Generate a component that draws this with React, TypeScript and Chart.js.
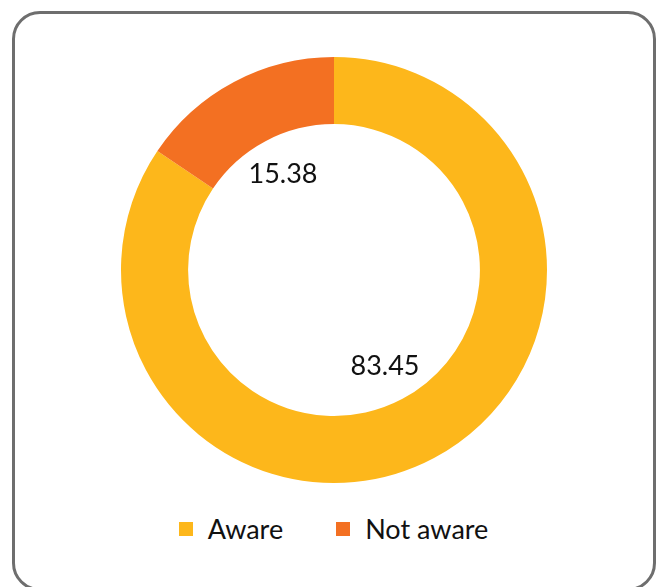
import React, { useEffect, useRef } from "react";
import { Chart, registerables } from "chart.js";

Chart.register(...registerables);

const categories = ["Aware", "Not aware"];
const values = [83.45, 15.38];
const colors = ["#FDB71B", "#F37022"];

const FONT = "Lato, 'Noto Sans', sans-serif";

const valueLabels = {
  id: "valueLabels",
  afterDatasetsDraw(chart: any) {
    const ctx = chart.ctx;
    const meta = chart.getDatasetMeta(0);
    ctx.save();
    ctx.font = `27px ${FONT}`;
    ctx.fillStyle = "#111111";
    ctx.textAlign = "center";
    ctx.textBaseline = "middle";
    meta.data.forEach((arc: any, i: number) => {
      const p = arc.getProps(["x", "y", "startAngle", "endAngle", "outerRadius"], true);
      const mid = (p.startAngle + p.endAngle) / 2;
      const r = p.outerRadius * 0.51;
      ctx.fillText(values[i].toFixed(2), p.x + Math.cos(mid) * r, p.y + Math.sin(mid) * r);
    });
    ctx.restore();
  },
};

export default function App() {
  const ref = useRef<HTMLCanvasElement | null>(null);
  useEffect(() => {
    if (!ref.current) return;
    const chart = new Chart(ref.current, {
      type: "doughnut",
      data: {
        labels: categories,
        datasets: [
          {
            data: values,
            backgroundColor: colors,
            borderWidth: 0,
          },
        ],
      },
      options: {
        animation: false,
        responsive: false,
        cutout: "68.5%",
        layout: { padding: { top: 57, bottom: 17, left: 121, right: 110 } },
        plugins: {
          legend: { display: false },
          tooltip: { enabled: false },
        },
      },
      plugins: [valueLabels],
    });
    return () => chart.destroy();
  }, []);

  return (
    <div
      style={{
        position: "fixed",
        left: 0,
        top: 0,
        width: 657,
        height: 587,
        overflow: "hidden",
        background: "#fff",
        fontFamily: FONT,
      }}
    >
      <div
        style={{
          position: "absolute",
          left: 12,
          top: 11,
          width: 644,
          height: 580,
          border: "3px solid #6e6e6e",
          borderRadius: 28,
          boxSizing: "border-box",
        }}
      />
      <canvas
        ref={ref}
        width={657}
        height={500}
        style={{ position: "absolute", left: 0, top: 0, width: 657, height: 500 }}
      />
      <div
        style={{
          position: "absolute",
          left: 0,
          width: 667,
          top: 509,
          height: 40,
          display: "flex",
          justifyContent: "center",
          alignItems: "center",
          fontSize: 27,
          color: "#111",
        }}
      >
        {categories.map((c, i) => (
          <div
            key={c}
            style={{
              display: "flex",
              alignItems: "center",
              marginLeft: i === 0 ? 0 : 53,
            }}
          >
            <span
              style={{
                display: "inline-block",
                width: 14,
                height: 14,
                background: colors[i],
                marginRight: 15,
              }}
            />
            <span style={{ lineHeight: "40px" }}>{c}</span>
          </div>
        ))}
      </div>
    </div>
  );
}
